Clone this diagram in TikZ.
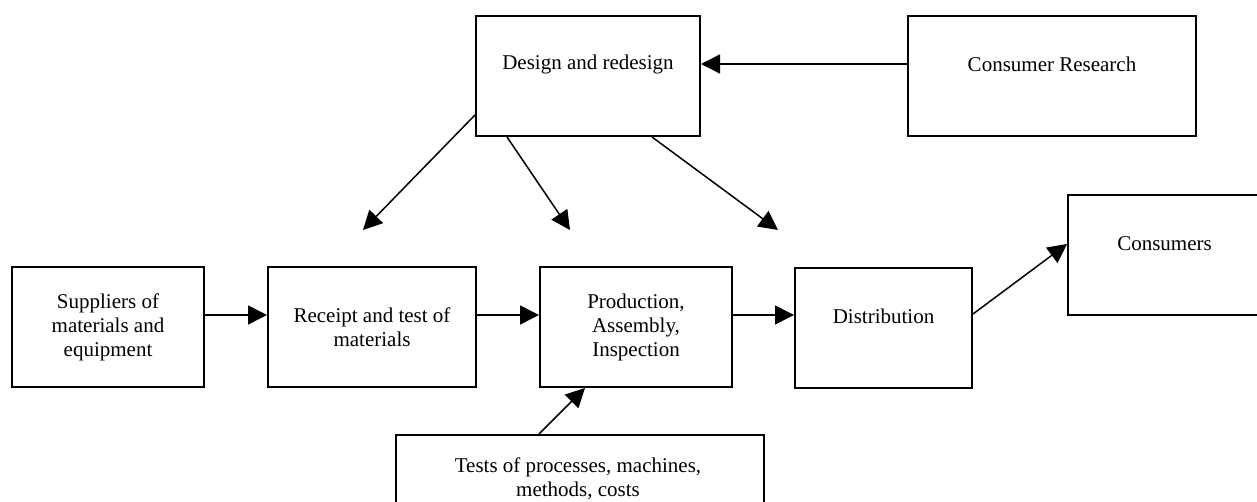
\documentclass[tikz,border=0pt]{standalone}
\usepackage{fontspec}
\setmainfont{Liberation Serif}
\usetikzlibrary{arrows.meta,calc}
\begin{document}
\begin{tikzpicture}[x=1pt,y=-1pt,
  box/.style={draw,line width=2pt,inner sep=0pt,anchor=north west},
  txt/.style={align=center,inner sep=0pt,font=\fontsize{21}{24}\selectfont},
  arr/.style={line width=1.5pt,-{Triangle[length=19pt,width=19pt]}}]
\useasboundingbox (0,0) rectangle (1257,502);
\clip (0,0) rectangle (1257,502);
% boxes
\node[box,minimum width=224pt,minimum height=120pt] (des) at (475,15) {};
\node[box,minimum width=288pt,minimum height=120pt] (cr) at (907,15) {};
\node[box,minimum width=192pt,minimum height=120pt] (sup) at (11,266) {};
\node[box,minimum width=208pt,minimum height=120pt] (rec) at (267,266) {};
\node[box,minimum width=192pt,minimum height=120pt] (prod) at (539,266) {};
\node[box,minimum width=177pt,minimum height=120pt] (dist) at (794,267) {};
\node[box,minimum width=193pt,minimum height=120pt] (cons) at (1067,194) {};
\node[box,minimum width=368pt,minimum height=110pt] (tests) at (395,434) {};
% texts
\node[txt] (tdes) at ($(des.center)+(0,-12)$) {Design and redesign};
\node[txt] (tcr) at ($(cr.center)+(0,-12)$) {Consumer Research};
\node[txt] (tsup) at (sup.center) {Suppliers of\\materials and\\equipment};
\node[txt] (trec) at (rec.center) {Receipt and test of\\materials};
\node[txt] (tprod) at (prod.center) {Production,\\Assembly,\\Inspection};
\node[txt] (tdist) at ($(dist.center)+(0,-12)$) {Distribution};
\node[txt] (tcons) at ($(cons.center)+(0,-11)$) {Consumers};
\node[txt,anchor=north] (ttests) at ($(tests.north)+(-2,24)$) {Tests of processes, machines,\\methods, costs};
% free arrow ends
\coordinate (e1) at (363,230);
\coordinate (e2) at (570,230);
\coordinate (e3) at (778,230);
% connectors
\draw[arr] ([yshift=12pt]cr.west) -- ([yshift=12pt]des.east);
\draw[arr] ([yshift=12pt]sup.east) -- ([yshift=12pt]rec.west);
\draw[arr] ([yshift=12pt]rec.east) -- ([yshift=12pt]prod.west);
\draw[arr] ([yshift=12pt]prod.east) -- ([yshift=13pt]dist.west);
\draw[arr] ([yshift=14pt]dist.east) -- ([yshift=11pt]cons.west);
\draw[arr] ([xshift=144pt]tests.north west) -- ([xshift=46pt]prod.south west);
\draw[arr] ([yshift=22pt]des.south west) -- (e1);
\draw[arr] ([xshift=32pt]des.south west) -- (e2);
\draw[arr] ([xshift=177pt]des.south west) -- (e3);
\end{tikzpicture}
\end{document}
